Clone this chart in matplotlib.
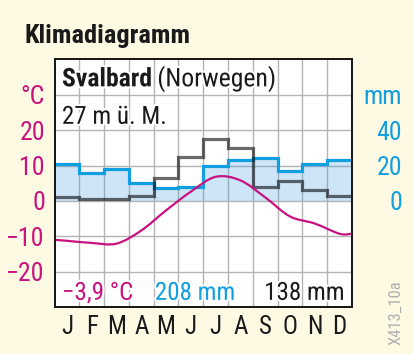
import matplotlib
matplotlib.use("Agg")
import matplotlib.pyplot as plt
import matplotlib.patheffects as pe
from matplotlib.path import Path
from matplotlib.patches import PathPatch
import numpy as np

plt.rcParams['font.family'] = ['Roboto Condensed', 'DejaVu Sans']

BG = '#fdf9e3'
MAGENTA = '#c8127f'
BLUE = '#109fe0'

months = ['J', 'F', 'M', 'A', 'M', 'J', 'J', 'A', 'S', 'O', 'N', 'D']
# monthly mean temperature (°C), read at month centres
temp = [-11.3, -11.9, -12.1, -8.4, -2.7, 2.6, 6.8, 5.8, 1.0, -4.4, -6.4, -9.3]
temp_start = -11.0
temp_end = -9.3
# precipitation (mm)
precip_blue = [21, 16, 18, 10, 7, 8, 20, 23, 24, 17, 21, 23]
precip_gray = [2, 1, 1, 3, 13, 25, 35, 30, 8, 11, 6, 3]

station = 'Svalbard'
country = '(Norwegen)'
altitude = '27 m ü. M.'
mean_temp = '−3,9 °C'
sum_blue = '208 mm'
sum_gray = '138 mm'


def smooth_path(xs, ys):
    # catmull-rom through the points, drawn as cubic bezier segments
    pts = np.column_stack([xs, ys])
    verts = [pts[0]]
    codes = [Path.MOVETO]
    n = len(pts)
    for i in range(n - 1):
        p0 = pts[i - 1] if i > 0 else pts[i]
        p1 = pts[i]
        p2 = pts[i + 1]
        p3 = pts[i + 2] if i + 2 < n else pts[i + 1]
        c1 = p1 + (p2 - p0) / 6
        c2 = p2 - (p3 - p1) / 6
        verts += [c1, c2, p2]
        codes += [Path.CURVE4] * 3
    return Path(verts, codes)


fig = plt.figure(figsize=(4.13, 3.54), dpi=100, facecolor=BG)
ax = fig.add_axes([0.132, 0.133, 0.72, 0.699])
ax.set_facecolor('white')
ax.set_xlim(0, 12)
ax.set_ylim(-30, 40)

edges = np.arange(13)
centers = edges[:-1] + 0.5

ax.set_xticks(centers)
ax.set_xticklabels(months)
ax.set_xticks(edges[1:-1], minor=True)
ax.set_yticks([-20, -10, 0, 10, 20, 30])
ax.set_yticklabels(['−20', '−10', '0', '10', '20', '°C'])
ax.grid(False)
ax.xaxis.grid(True, which='minor', color='#b3b3b3', lw=1.0)
ax.yaxis.grid(True, which='major', color='#b3b3b3', lw=1.0)
ax.tick_params(axis='both', which='both', length=0)
ax.tick_params(axis='x', labelsize=18, pad=6, colors='#1a1a1a')
ax.tick_params(axis='y', labelsize=18.5, pad=7, colors=MAGENTA)

ax2 = ax.twinx()
ax2.set_ylim(-60, 80)
ax2.set_yticks([0, 20, 40, 60])
ax2.set_yticklabels(['0', '20', '40', 'mm'])
ax2.tick_params(axis='y', length=0, labelsize=18.5, pad=36, colors=BLUE)
for lab in ax2.get_yticklabels():
    lab.set_horizontalalignment('right')

for a in (ax, ax2):
    for s in a.spines.values():
        s.set_color('#1a1a1a')
        s.set_linewidth(1.4)

ax2.stairs(precip_blue, edges, baseline=0, fill=True, color='#3d9be6', alpha=0.25, lw=0)
ax2.stairs(precip_blue, edges, baseline=None, color=BLUE, lw=2.3)
ax2.stairs(precip_gray, edges, baseline=None, color='black', alpha=0.58, lw=2.3)

tx = [0] + list(centers) + [12]
ty = [temp_start] + temp + [temp_end]
curve = PathPatch(smooth_path(tx, ty), transform=ax.transData, fill=False,
                  edgecolor=MAGENTA, lw=1.6)
ax2.add_patch(curve)

halo = [pe.withStroke(linewidth=3, foreground='white')]
t1 = ax2.text(0.3, 32.4, station, transform=ax.transData, fontsize=18.5,
              fontweight='bold', color='#1a1a1a', va='baseline', path_effects=halo)
fig.canvas.draw()
bb = t1.get_window_extent().transformed(ax.transData.inverted())
ax2.text(bb.x1 + 0.2, 32.4, country, transform=ax.transData, fontsize=18.5,
         color='#1a1a1a', va='baseline', path_effects=halo)
ax2.text(0.3, 21.8, altitude, transform=ax.transData, fontsize=18,
         color='#1a1a1a', va='baseline', path_effects=halo)

ax2.text(0.3, -28, mean_temp, transform=ax.transData, fontsize=18,
         color=MAGENTA, va='baseline', path_effects=halo)
ax2.text(4.05, -28, sum_blue, transform=ax.transData, fontsize=18,
         color=BLUE, va='baseline', path_effects=halo)
ax2.text(11.7, -28, sum_gray, transform=ax.transData, fontsize=18,
         color='#1a1a1a', va='baseline', ha='right', path_effects=halo)

fig.text(24 / 413, 1 - 42.7 / 354, 'Klimadiagramm', fontsize=19,
         fontweight='bold', color='#1a1a1a', va='baseline')
fig.text(396 / 413, 1 - 313 / 354, 'X413_10a', fontsize=12, rotation=90,
         color='#b0b0b0', ha='center', va='center')

fig.savefig('out.png', dpi=100, facecolor=BG)
